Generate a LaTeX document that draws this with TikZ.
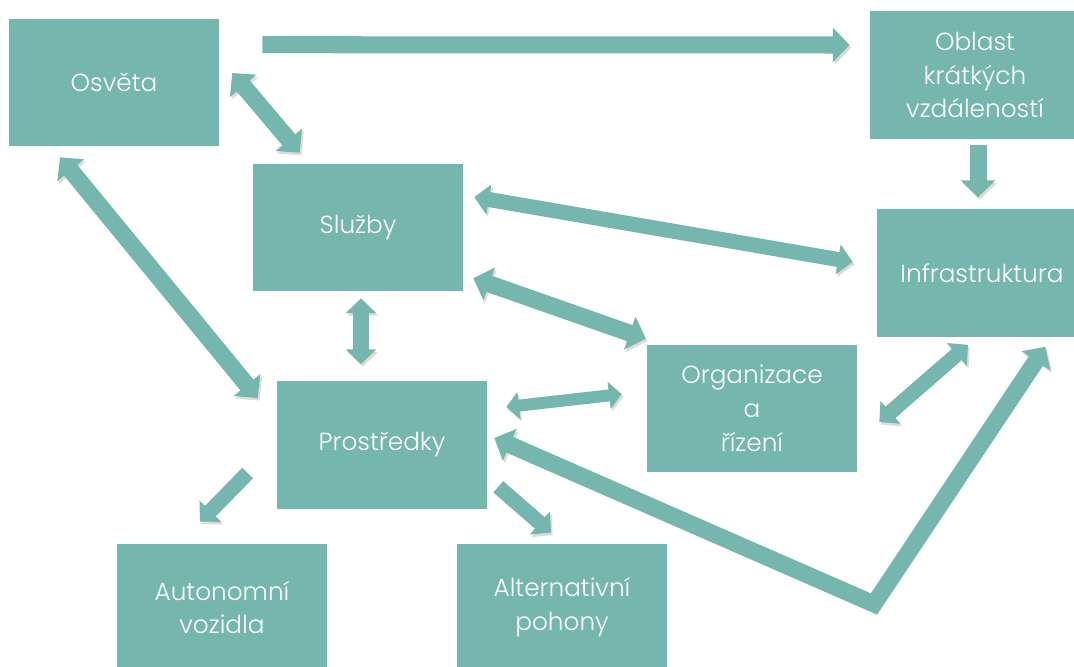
\documentclass[tikz,border=0pt]{standalone}
\usepackage{fontspec}
\setmainfont{Poppins}[UprightFont=* Light]
\usetikzlibrary{arrows.meta,calc}
\definecolor{boxteal}{RGB}{117,183,174}
\tikzstyle{block}=[fill=boxteal,minimum width=5.25cm,minimum height=3.175cm,text=white,align=center,font=\fontsize{17.6}{24}\selectfont]
\tikzstyle{link}=[draw=boxteal,preaction={draw=black!14,transform canvas={shift={(1.2pt,-1.8pt)}}}]
\tikzstyle{linkbig}=[link,line width=12.1pt,>={Triangle[length=12pt,width=24pt]}]
\tikzstyle{linkmid}=[link,line width=10.7pt,>={Triangle[length=10.5pt,width=21pt]}]
\tikzstyle{linksmall}=[link,line width=8.5pt,>={Triangle[length=9pt,width=19pt]}]

\begin{document}
\begin{tikzpicture}[x=0.025cm,y=-0.025cm]
\clip (0,0) rectangle (1074,666);
\fill[white] (0,0) rectangle (1074,666);

\node [block] (osveta) at (114,82.5) {Osvěta};
\node [block] (sluzby) at (358,227.5) {Služby};
\node [block] (prostredky) at (382,445) {Prostředky};
\node [block] (organizace) at (752,408.5) {Organizace\\a\\řízení};
\node [block] (oblast) at (975,75) {Oblast\\krátkých\\vzdáleností};
\node [block] (infra) at (982,273) {Infrastruktura};
\node [block] (autonomni) at (222,607.5) {Autonomní\\vozidla};
\node [block] (alternativni) at (562,607.5) {Alternativní\\pohony};
\coordinate (ohyb) at (874,604);

\draw [linkbig,->] ($(osveta.north east)+(43,26)$) -- ($(oblast.west)+(-20,-30)$);
\draw [linkbig,<->] ($(osveta.east)+(13,-9.5)$) -- ($(sluzby.north west)+(47,-11)$);
\draw [linkbig,<->] ($(osveta.south)+(-54,11)$) -- ($(prostredky.west)+(-19,-47)$);
\draw [linkmid,<->] ($(sluzby.south)+(3,7)$) -- ($(prostredky.north)+(-21,-17)$);
\draw [linkmid,<->] ($(sluzby.east)+(11,-30.5)$) -- ($(infra.west)+(-24,-11)$);
\draw [linkbig,<->] ($(sluzby.south east)+(10,-13)$) -- ($(organizace.north west)+(-1,-6)$);
\draw [linksmall,<->] ($(prostredky.east)+(19,-38)$) -- ($(organizace.west)+(-25,-14.5)$);
\draw [linkbig,->] ($(oblast.south)+(3,6)$) -- ($(infra.north)+(-4,-12)$);
\draw [linkmid,<->] ($(infra.south)+(-14,8)$) -- ($(organizace.east)+(22,13.5)$);
\draw [linkmid,->] ($(prostredky.west)+(-29,28)$) -- ($(autonomni.north)+(-22,-22)$);
\draw [linkmid,->] ($(prostredky.south east)+(11,-22)$) -- ($(alternativni.north)+(-11,-11)$);
\draw [linkbig,<->] ($(prostredky.east)+(7,-7)$) -- (ohyb) -- ($(infra.south east)+(-42,10)$);
\end{tikzpicture}
\end{document}
